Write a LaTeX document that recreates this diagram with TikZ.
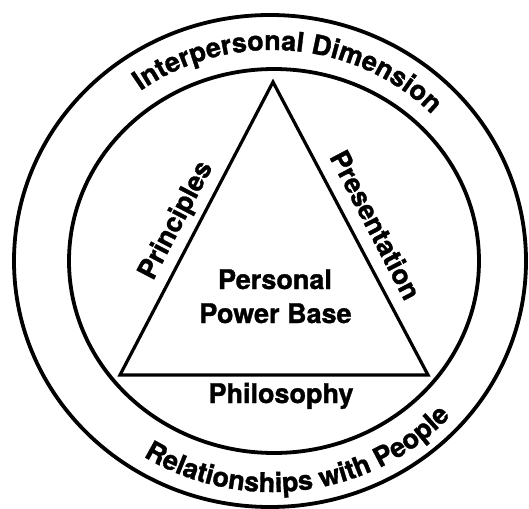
\documentclass[tikz,border=0pt]{standalone}
\usepackage{fontspec}
\setsansfont{TeX Gyre Heros}[FakeBold=1.2]
\usetikzlibrary{decorations.text}
\newcommand{\labfont}{\fontsize{27}{34}\selectfont\sffamily\bfseries}

\tikzset{
    ring/.style={line width=3.8},
    edge/.style={line width=3.2, line join=miter},
    lab/.style={font=\labfont, inner sep=0pt, anchor=base},
    arclab/.style={decorate, decoration={text along path, text align=center, text={|\labfont|#1}}}
}

\begin{document}
\begin{tikzpicture}[x=1pt, y=1pt]
    \useasboundingbox (-272,-247) rectangle (257,261);

    % Rings
    \draw[ring] (-2,0) ellipse[x radius=256, y radius=246];
    \draw[ring] (2,0) ellipse[x radius=205, y radius=192];

    % Ring texts
    \path[arclab={Interpersonal Dimension}]
        (175:222 and 211) arc[start angle=175, end angle=-5, x radius=222, y radius=211];
    \path[arclab={Relationships with People}]
        (188:241 and 231) arc[start angle=188, end angle=368, x radius=241, y radius=231];

    % Triangle
    \coordinate (apex) at (1,179);
    \coordinate (baseL) at (-152,-114);
    \coordinate (baseR) at (156,-114);
    \draw[edge] (apex) -- (baseR) -- (baseL) -- cycle;

    % Side labels
    \node[lab, rotate=62.4] (princ) at (-89,37) {Principles};
    \node[lab, rotate=-62.4] (pres) at (95,31.5) {Presentation};
    \node[lab] (philo) at (9,-142) {Philosophy};

    % Centre
    \node[lab] (core1) at (3,-28) {Personal};
    \node[lab] (core2) at (3.5,-62) {Power Base};
\end{tikzpicture}
\end{document}
